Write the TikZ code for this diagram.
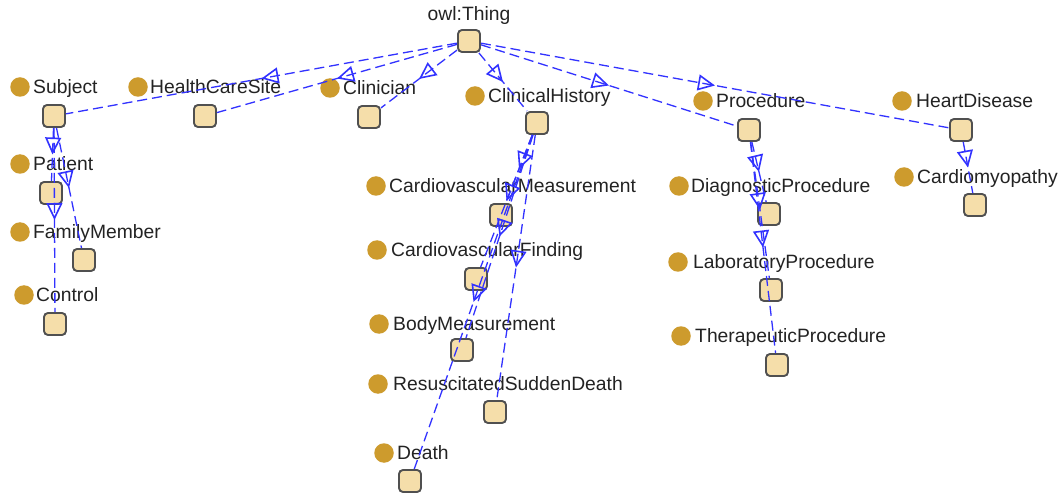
\documentclass[tikz,border=0pt]{standalone}
\usepackage{fontspec}
\setmainfont{Liberation Sans}
\usetikzlibrary{arrows.meta,decorations.markings}
\definecolor{boxfill}{RGB}{245,222,170}
\definecolor{boxline}{RGB}{80,80,80}
\definecolor{dotcol}{RGB}{205,155,45}
\definecolor{edgecol}{RGB}{50,50,255}
\definecolor{txtcol}{RGB}{35,35,35}
\tikzset{
  clsbox/.style={draw=boxline, line width=1.9pt, fill=boxfill, rounded corners=4pt,
    minimum width=22pt, minimum height=22pt, inner sep=0pt},
  clsdot/.style={circle, fill=dotcol, minimum size=19.5pt, inner sep=0pt},
  clslabel/.style={anchor=base west, inner sep=0pt, text=txtcol,
    font=\fontsize{19.3pt}{22pt}\selectfont},
  subedge/.style={draw=edgecol, line width=1.3pt, dash pattern=on 10pt off 5pt,
    postaction={decorate},
    decoration={markings, mark=at position 0.5 with
      {\arrow[edgecol, line width=1.6pt]{Triangle[open, length=17pt, width=16pt]}}}},
}
\newcommand\owlclass[7]{%
  \node[clsdot] (#1-dot) at (#2,#3) {};
  \node[clslabel] (#1-lbl) at (#4,#3+6.8) {#5};
  \node[clsbox] (#1) at (#6,#7) {};
}
\begin{document}
\begin{tikzpicture}[x=1pt,y=-1pt]
\useasboundingbox[fill=white] (0,0) rectangle (1060,494);
% root
\node[anchor=base, inner sep=0pt, text=txtcol, font=\fontsize{19.3pt}{22pt}\selectfont] (thing-lbl) at (469,21) {owl:Thing};
\node[clsbox] (thing) at (469,41) {};
% classes
\owlclass{subject}{20}{87}{33}{Subject}{54}{116}
\owlclass{hcs}{138}{87}{150}{HealthCareSite}{205}{116}
\owlclass{clin}{330}{88}{343}{Clinician}{369}{117}
\owlclass{ch}{475}{96}{488}{ClinicalHistory}{537}{123}
\owlclass{proc}{703}{101}{716}{Procedure}{749}{130}
\owlclass{hd}{902}{101}{916}{HeartDisease}{961}{130}
\owlclass{patient}{20}{164}{33}{Patient}{51}{193}
\owlclass{family}{20}{232}{33}{FamilyMember}{84}{260}
\owlclass{control}{24}{295}{36}{Control}{55}{324}
\owlclass{cvm}{376}{186}{389}{CardiovascularMeasurement}{501}{215}
\owlclass{cvf}{377}{250}{391}{CardiovascularFinding}{476}{279}
\owlclass{bm}{379}{324}{393}{BodyMeasurement}{462}{350}
\owlclass{rsd}{378}{384}{393}{ResuscitatedSuddenDeath}{495}{412}
\owlclass{death}{384}{453}{397}{Death}{410}{481}
\owlclass{diag}{679}{186}{691}{DiagnosticProcedure}{769}{214}
\owlclass{lab}{678}{262}{693}{LaboratoryProcedure}{771}{290}
\owlclass{ther}{681}{336}{695}{TherapeuticProcedure}{777}{365}
\owlclass{cardio}{904}{177}{917}{Cardiomyopathy}{975}{205}
% subclass edges
\foreach \p/\c in {thing/subject, thing/hcs, thing/clin, thing/ch, thing/proc, thing/hd,
  subject/patient, subject/family, subject/control,
  ch/cvm, ch/cvf, ch/bm, ch/rsd, ch/death,
  proc/diag, proc/lab, proc/ther, hd/cardio}
  \draw[subedge] (\p) -- (\c);
\end{tikzpicture}
\end{document}
